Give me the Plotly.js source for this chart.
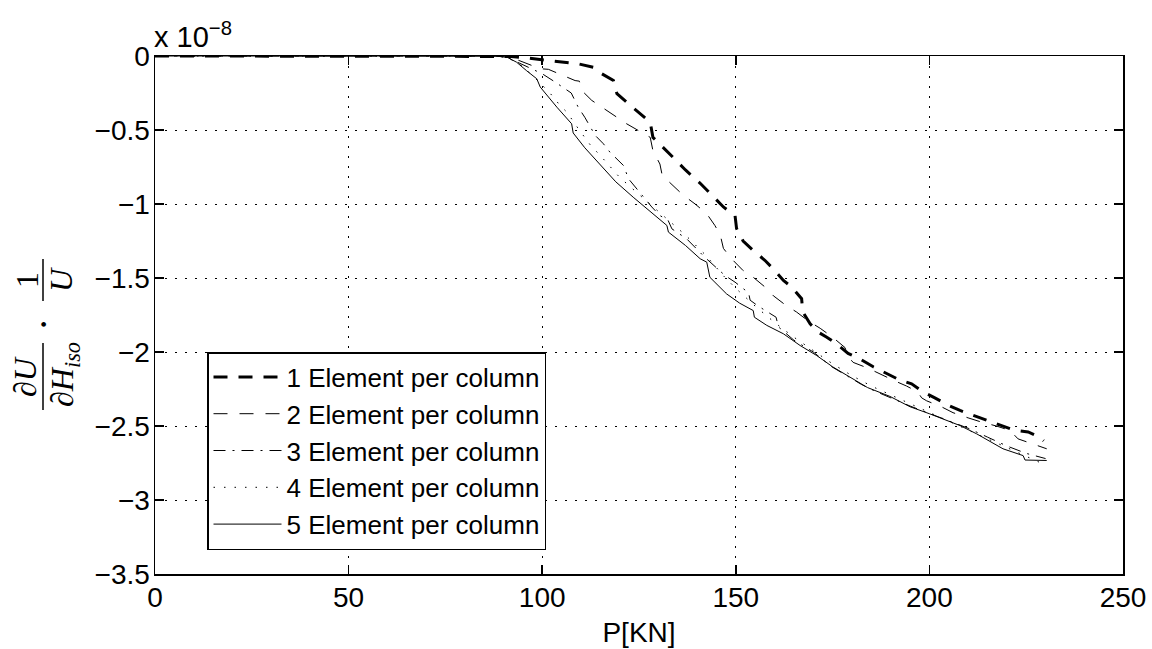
<!DOCTYPE html>
<html>
<head>
<meta charset="utf-8">
<script src="https://cdn.plot.ly/plotly-3.0.1.min.js"></script>
<style>html,body{margin:0;padding:0;background:#fff;}#chart{width:1152px;height:649px;}</style>
</head>
<body>
<div id="chart"></div>
<script>
// ---- data (P in kN, values in units of 1e-8) ----
const seriesNames = ["1 Element per column", "2 Element per column", "3 Element per column", "4 Element per column", "5 Element per column"];

const p1 = [0, 88, 92, 95, 100, 106, 109.3, 113.2, 115.4, 118.4, 119.3, 122.3, 125.3, 127.9, 128.6, 131, 134, 137, 140.8, 143.8, 146.8, 149.8, 150.2, 151.9, 154.5, 157.5, 160.1, 162.3, 164.4, 167, 167.3, 169.2, 171.3, 173.5, 176, 179, 182, 185.5, 188.5, 192.4, 195.4, 198.4, 201.4, 204.9, 207.9, 211.7, 214.8, 218.6, 221.6, 225.5, 228.5, 229.5];
const y1 = [0, 0, -0.003, -0.01, -0.025, -0.042, -0.053, -0.076, -0.12, -0.166, -0.255, -0.323, -0.39, -0.447, -0.55, -0.61, -0.69, -0.77, -0.86, -0.94, -1.02, -1.078, -1.166, -1.25, -1.314, -1.38, -1.45, -1.517, -1.56, -1.64, -1.73, -1.81, -1.866, -1.9, -1.944, -2.01, -2.046, -2.1, -2.14, -2.19, -2.215, -2.27, -2.31, -2.36, -2.395, -2.43, -2.46, -2.497, -2.526, -2.54, -2.576, -2.6];

const p2 = [0, 88, 92, 96, 99.5, 101.6, 105, 108.5, 109.6, 110.2, 112.8, 118.4, 121.8, 124.8, 127.9, 128.6, 130.4, 131, 133.9, 136.4, 139.5, 142.5, 144.6, 146, 146.8, 148.9, 151.9, 154.5, 157.5, 159.7, 163, 165.7, 168.7, 171.8, 175, 178.2, 179, 180.3, 184.2, 187.2, 190.6, 194.1, 197, 198, 199.3, 203.1, 206.1, 210, 213.5, 217.3, 220.8, 222.9, 226, 230.3];
const y2 = [0, 0, -0.01, -0.053, -0.086, -0.09, -0.13, -0.166, -0.17, -0.233, -0.30, -0.40, -0.458, -0.503, -0.55, -0.64, -0.73, -0.807, -0.875, -0.94, -1.0, -1.066, -1.145, -1.21, -1.3, -1.37, -1.45, -1.495, -1.56, -1.62, -1.686, -1.73, -1.79, -1.84, -1.9, -1.97, -2.03, -2.07, -2.11, -2.15, -2.19, -2.23, -2.27, -2.31, -2.33, -2.37, -2.41, -2.445, -2.474, -2.5, -2.53, -2.587, -2.616, -2.654];

const p3 = [0, 88, 91, 95, 100, 103.4, 106.4, 107.5, 109.3, 111, 113.7, 115.8, 117.5, 119.7, 121, 122.3, 124.4, 128.3, 130.4, 132.5, 133.5, 137.3, 142, 147.2, 149.8, 153.3, 153.7, 155.8, 160.4, 161, 165, 170, 174.8, 178.2, 182.5, 186, 190, 195, 200, 205, 210, 215, 220, 225, 230];
const y3 = [0, 0, -0.01, -0.06, -0.12, -0.177, -0.233, -0.25, -0.346, -0.414, -0.537, -0.593, -0.65, -0.706, -0.74, -0.83, -0.897, -1.02, -1.078, -1.11, -1.168, -1.235, -1.36, -1.483, -1.528, -1.6, -1.65, -1.69, -1.765, -1.83, -1.92, -2.0, -2.1, -2.155, -2.22, -2.265, -2.31, -2.365, -2.415, -2.465, -2.515, -2.575, -2.635, -2.685, -2.72];

const p4 = [0, 88, 91, 95, 99, 102, 104.6, 106.4, 109.3, 112.4, 115.4, 120, 126.5, 132.6, 137, 142, 147, 150, 155, 160, 165, 170, 175, 180, 185, 190, 195, 200, 205, 210, 215, 220, 225, 230.3];
const y4 = [0, 0, -0.01, -0.07, -0.17, -0.25, -0.334, -0.38, -0.49, -0.6, -0.684, -0.82, -0.97, -1.11, -1.21, -1.34, -1.49, -1.57, -1.69, -1.8, -1.9, -1.99, -2.08, -2.16, -2.23, -2.29, -2.35, -2.41, -2.47, -2.53, -2.59, -2.65, -2.705, -2.767];

const p5 = [0, 88, 90.9, 93.4, 96, 98.6, 99.5, 103.8, 107.6, 108, 111, 114.9, 119, 123.5, 128, 132.2, 132.6, 137, 140.8, 142.5, 143.3, 147.6, 151, 154.5, 154.8, 158, 162.3, 166.6, 170.9, 175, 179.5, 184, 189.8, 195, 200.1, 204, 207.9, 212.2, 215.2, 219, 224.2, 224.7, 230.3];
const y5 = [0, 0, -0.008, -0.042, -0.1, -0.154, -0.21, -0.346, -0.458, -0.52, -0.62, -0.73, -0.85, -0.954, -1.05, -1.145, -1.19, -1.28, -1.37, -1.393, -1.495, -1.607, -1.67, -1.72, -1.765, -1.82, -1.877, -1.956, -2.024, -2.1, -2.17, -2.24, -2.3, -2.37, -2.418, -2.46, -2.497, -2.553, -2.598, -2.654, -2.7, -2.73, -2.733];

const xTickVals = [0, 50, 100, 150, 200, 250];
const xTickText = ["0", "50", "100", "150", "200", "250"];
const yTickVals = [0, -0.5, -1, -1.5, -2, -2.5, -3, -3.5];
const yTickText = ["0", "\u22120.5", "\u22121", "\u22121.5", "\u22122", "\u22122.5", "\u22123", "\u22123.5"];

// ---- layout geometry ----
const W = 1152, H = 649;
const M = {l: 155, r: 29, t: 56, b: 75};
const PW = W - M.l - M.r, PH = H - M.t - M.b;
const px2x = px => (px - M.l) / PW;
const py2y = py => (H - M.b - py) / PH;

const SANS = "Liberation Sans, Arial, Helvetica, sans-serif";
const SERIF = "Liberation Serif, Times New Roman, serif";

const styles = [
  {width: 3, dash: "14px,11px"},
  {width: 1, dash: "14px,12px"},
  {width: 1, dash: "12px,7px,2px,7px"},
  {width: 1, dash: "1.5px,9px"},
  {width: 1, dash: "solid"}
];
const xs = [p1, p2, p3, p4, p5];
const ys = [y1, y2, y3, y4, y5];

const traces = xs.map((x, i) => ({
  x: x, y: ys[i], type: "scatter", mode: "lines", name: seriesNames[i],
  line: {color: "#000", width: styles[i].width, dash: styles[i].dash}
}));

const mathFont = {family: SERIF, size: 32, color: "#000"};
const ann = (text, cx, cy, extra) => Object.assign({
  xref: "paper", yref: "paper", x: px2x(cx), y: py2y(cy), text: text,
  showarrow: false, textangle: -90, xanchor: "center", yanchor: "middle",
  font: mathFont
}, extra || {});

const layout = {
  width: W, height: H,
  margin: M,
  paper_bgcolor: "#fff", plot_bgcolor: "#fff",
  font: {family: SANS, size: 28, color: "#000"},
  showlegend: true,
  legend: {
    x: px2x(207), y: py2y(352), xanchor: "left", yanchor: "top",
    bgcolor: "#fff", bordercolor: "#000", borderwidth: 1.5,
    font: {family: SANS, size: 26, color: "#000"},
    itemwidth: 68, tracegroupgap: 0
  },
  xaxis: {
    range: [0, 250], tickvals: xTickVals, ticktext: xTickText,
    showline: true, linecolor: "#000", linewidth: 1.5, mirror: "ticks",
    ticks: "inside", ticklen: 9, tickwidth: 1.5, tickcolor: "#000",
    showgrid: true, gridcolor: "#000", gridwidth: 1, griddash: "1.5px,8.5px",
    zeroline: false, ticklabelstandoff: -2,
    title: {text: "P[KN]", font: {family: SANS, size: 28}, standoff: 10}
  },
  yaxis: {
    range: [-3.5, 0], tickvals: yTickVals, ticktext: yTickText,
    showline: true, linecolor: "#000", linewidth: 1.5, mirror: "ticks",
    ticks: "inside", ticklen: 9, tickwidth: 1.5, tickcolor: "#000",
    showgrid: true, gridcolor: "#000", gridwidth: 1, griddash: "1.5px,8.5px",
    zeroline: false, ticklabelstandoff: -2
  },
  annotations: [
    {xref: "paper", yref: "paper", x: px2x(152), y: py2y(55), xanchor: "left", yanchor: "bottom",
     text: "x 10<sup>\u22128</sup>", showarrow: false, font: {family: SANS, size: 29, color: "#000"}},
    ann("\u2202<i>U</i>", 25, 377),
    ann("\u2202<i>H</i><sub><i>iso</i></sub>", 64, 375),
    ann("\u00b7", 43, 325, {font: {family: SERIF, size: 40, color: "#000"}}),
    ann("1", 27, 280),
    ann("<i>U</i>", 61, 280)
  ],
  shapes: [
    {type: "line", xref: "paper", yref: "paper", x0: px2x(43), x1: px2x(43), y0: py2y(343), y1: py2y(410), line: {color: "#000", width: 1.5}},
    {type: "line", xref: "paper", yref: "paper", x0: px2x(43), x1: px2x(43), y0: py2y(259), y1: py2y(301), line: {color: "#000", width: 1.5}}
  ]
};

Plotly.newPlot("chart", traces, layout, {staticPlot: true, displayModeBar: false});
</script>
</body>
</html>
